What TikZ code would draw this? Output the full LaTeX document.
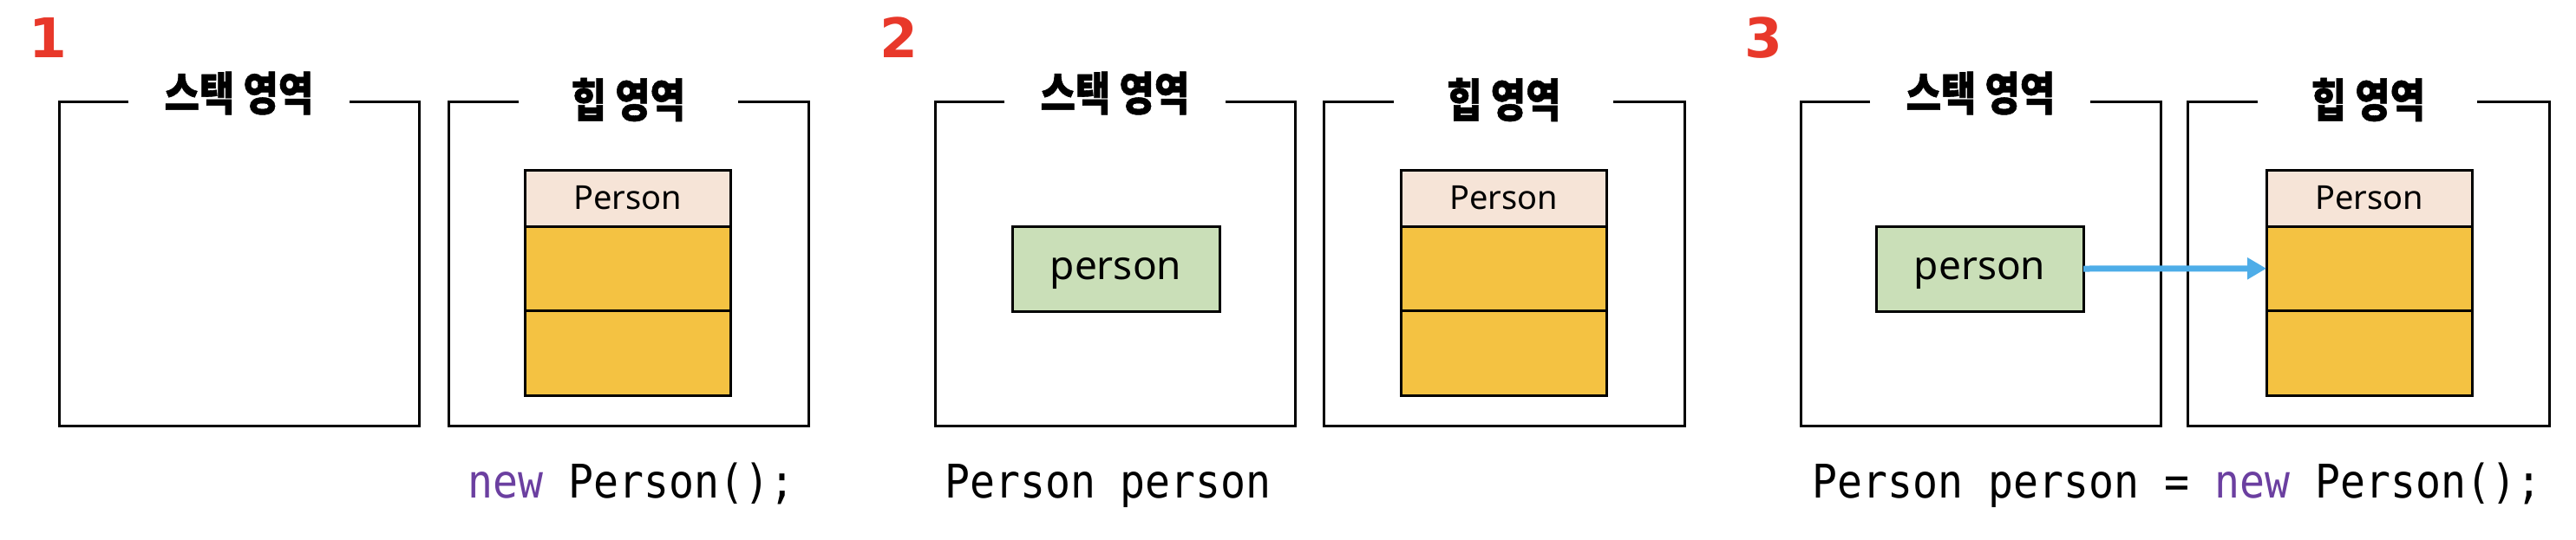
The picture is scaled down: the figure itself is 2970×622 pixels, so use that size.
\documentclass[tikz,border=0pt]{standalone}
\usepackage{fontspec}
\setmainfont{Noto Sans}
\newfontfamily\krfont[FakeStretch=0.83, BoldFeatures={FakeBold=1}]{Noto Sans CJK KR}
\newfontfamily\codefont[FakeStretch=0.9]{DejaVu Sans Mono}
\newfontfamily\numfont{DejaVu Sans}
\usetikzlibrary{arrows.meta}
\definecolor{numred}{HTML}{E8382A}
\definecolor{headpeach}{HTML}{F6E4D7}
\definecolor{fieldgold}{HTML}{F4C242}
\definecolor{vargreen}{HTML}{CADFB8}
\definecolor{arrowblue}{HTML}{4EADE8}
\definecolor{newpurple}{HTML}{6B3FA0}
\tikzset{
  frame/.style={line width=3pt, draw=black},
  areatitle/.style={font=\krfont\bfseries\fontsize{53}{53}\selectfont, inner sep=0pt},
  stepnum/.style={font=\numfont\bfseries\fontsize{63}{63}\selectfont, text=numred, inner sep=0pt, anchor=base},
  objhead/.style={draw, line width=3pt, outer sep=0pt, fill=headpeach, minimum width=237pt, minimum height=65pt, inner sep=0pt, anchor=north west, font=\fontsize{38}{38}\selectfont},
  objfield/.style={draw, line width=3pt, outer sep=0pt, fill=fieldgold, minimum width=237pt, minimum height=97.5pt, inner sep=0pt, anchor=north west},
  varbox/.style={draw, line width=3pt, outer sep=0pt, fill=vargreen, minimum width=239pt, minimum height=98pt, inner sep=0pt, font=\fontsize{46}{46}\selectfont, text depth=0pt},
  codeline/.style={font=\codefont\fontsize{53.5}{53.5}\selectfont, anchor=base, inner sep=0pt},
  refarrow/.style={draw=arrowblue, line width=7pt, -{Triangle[length=22pt, width=24pt]}}
}
\begin{document}
\begin{tikzpicture}[x=1pt,y=-1pt]
\useasboundingbox (0,0) rectangle (2970,622);

% ---------- Panel 1 ----------
\node[stepnum] (n1) at (55.5,66) {1};
\draw[frame] (148,117) -- (68,117) -- (68,491) -- (483,491) -- (483,117) -- (403,117);
\node[areatitle] (s1t) at (275.5,107.5) {스택 영역};
\draw[frame] (598,117) -- (517,117) -- (517,491) -- (932,491) -- (932,117) -- (851,117);
\node[areatitle] (h1t) at (724.5,115) {힙 영역};
\node[objhead] (o1h) at (605,196) {Person};
\node[objfield] (o1a) at (o1h.south west) {};
\node[objfield] (o1b) at (o1a.south west) {};
\node[codeline] (c1) at (728,574) {\textcolor{newpurple}{new} Person();};

% ---------- Panel 2 ----------
\node[stepnum] (n2) at (1036.5,66) {2};
\draw[frame] (1158,117) -- (1078,117) -- (1078,491) -- (1493,491) -- (1493,117) -- (1413,117);
\node[areatitle] (s2t) at (1285.5,107.5) {스택 영역};
\draw[frame] (1607,117) -- (1526,117) -- (1526,491) -- (1942,491) -- (1942,117) -- (1860,117);
\node[areatitle] (h2t) at (1734,115) {힙 영역};
\node[varbox] (v2) at (1286.5,310) {person};
\node[objhead] (o2h) at (1615,196) {Person};
\node[objfield] (o2a) at (o2h.south west) {};
\node[objfield] (o2b) at (o2a.south west) {};
\node[codeline] (c2) at (1277.5,574) {Person person};

% ---------- Panel 3 ----------
\node[stepnum] (n3) at (2033,66) {3};
\draw[frame] (2156,117) -- (2076,117) -- (2076,491) -- (2491,491) -- (2491,117) -- (2410,117);
\node[areatitle] (s3t) at (2283.5,107.5) {스택 영역};
\draw[frame] (2603,117) -- (2522,117) -- (2522,491) -- (2939,491) -- (2939,117) -- (2856,117);
\node[areatitle] (h3t) at (2730.5,115) {힙 영역};
\node[varbox] (v3) at (2282.5,310) {person};
\node[objhead] (o3h) at (2613,196) {Person};
\node[objfield] (o3a) at (o3h.south west) {};
\node[objfield] (o3b) at (o3a.south west) {};
\draw[refarrow] (v3.east) -- (o3a.west);
\node[codeline] (c3) at (2510,574) {Person person = \textcolor{newpurple}{new} Person();};
\end{tikzpicture}
\end{document}
